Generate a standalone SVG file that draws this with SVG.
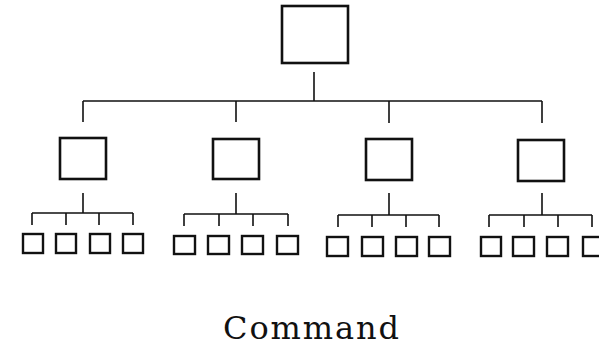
<svg xmlns="http://www.w3.org/2000/svg" width="599" height="347" viewBox="0 0 599 347">
<style>
.bx{fill:#fff;stroke:#111;stroke-width:2.6}
.sb{fill:#fff;stroke:#111;stroke-width:2.4}
.ln{fill:none;stroke:#111;stroke-width:1.6}
.lbl{font-family:"DejaVu Serif","Liberation Serif",serif;font-size:32px;fill:#111}
</style>
<rect width="599" height="347" fill="#fff"/>
<g id="connectors">
<path class="ln" d="M314 72V101M83 101H542M83 101V122M236 101V122M389 101V123M542 101V123"/>
<path class="ln" d="M83 193V213M32 213H133M32 213V225M66 213V225M99 213V225M133 213V225"/>
<path class="ln" d="M236 193V214M184 214H288M184 214V226M219 214V226M253 214V226M288 214V226"/>
<path class="ln" d="M389 193V215M338 215H439M338 215V227M372 215V227M406 215V227M439 215V227"/>
<path class="ln" d="M542 193V215M489 215H592M489 215V227M524 215V227M558 215V227M592 215V227"/>
</g>
<g id="top"><rect class="bx" x="282" y="6" width="66" height="57"/></g>
<g id="mid1"><rect class="bx" x="60" y="138" width="46" height="41"/></g>
<g id="mid2"><rect class="bx" x="213" y="139" width="46" height="40"/></g>
<g id="mid3"><rect class="bx" x="366" y="139" width="46" height="41"/></g>
<g id="mid4"><rect class="bx" x="518" y="140" width="46" height="41"/></g>
<g id="leaf1a"><rect class="sb" x="23" y="234" width="20" height="19"/></g>
<g id="leaf1b"><rect class="sb" x="56" y="234" width="20" height="19"/></g>
<g id="leaf1c"><rect class="sb" x="90" y="234" width="20" height="19"/></g>
<g id="leaf1d"><rect class="sb" x="123" y="234" width="20" height="19"/></g>
<g id="leaf2a"><rect class="sb" x="174" y="236" width="21" height="18"/></g>
<g id="leaf2b"><rect class="sb" x="208" y="236" width="21" height="18"/></g>
<g id="leaf2c"><rect class="sb" x="242" y="236" width="21" height="18"/></g>
<g id="leaf2d"><rect class="sb" x="277" y="236" width="21" height="18"/></g>
<g id="leaf3a"><rect class="sb" x="327" y="237" width="21" height="19"/></g>
<g id="leaf3b"><rect class="sb" x="362" y="237" width="21" height="19"/></g>
<g id="leaf3c"><rect class="sb" x="396" y="237" width="21" height="19"/></g>
<g id="leaf3d"><rect class="sb" x="429" y="237" width="21" height="19"/></g>
<g id="leaf4a"><rect class="sb" x="481" y="237" width="20" height="19"/></g>
<g id="leaf4b"><rect class="sb" x="513" y="237" width="21" height="19"/></g>
<g id="leaf4c"><rect class="sb" x="547" y="237" width="21" height="19"/></g>
<g id="leaf4d"><rect class="sb" x="583" y="237" width="21" height="19"/></g>
<text class="lbl" x="223" y="339" textLength="176" lengthAdjust="spacing">Command</text>
</svg>
